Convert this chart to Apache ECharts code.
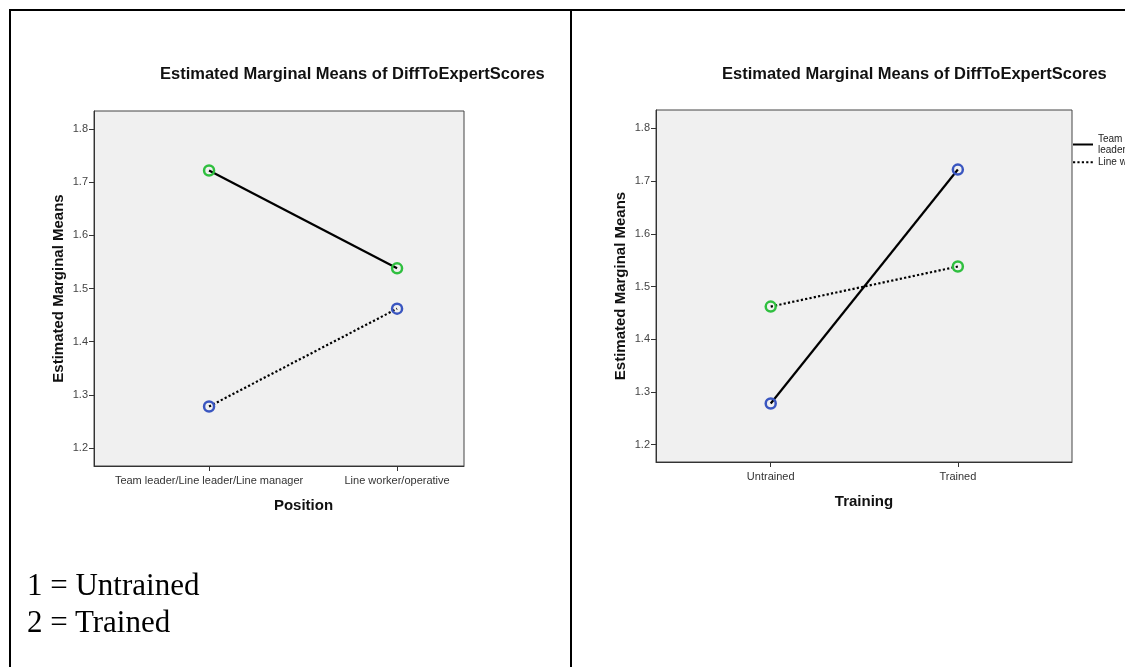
<!DOCTYPE html>
<html>
<head>
<meta charset="utf-8">
<title>Estimated Marginal Means of DiffToExpertScores</title>
<script src="https://cdn.jsdelivr.net/npm/echarts@6/dist/echarts.min.js"></script>
<style>
  html, body { margin: 0; padding: 0; background: #fff; overflow: hidden; }
  #wrap { position: relative; width: 1125px; height: 667px; overflow: hidden; }
  #chart { position: absolute; left: 0; top: 0; width: 1125px; height: 667px; }
  .rule { position: absolute; background: #000; }
  .note { position: absolute; left: 27px; font-family: "Liberation Serif", "Times New Roman", serif;
          font-size: 31px; line-height: 37px; color: #000; white-space: nowrap; }
</style>
</head>
<body>
<div id="wrap">
  <div id="chart"></div>
  <!-- table rules around the two panels -->
  <div class="rule" style="left:9px; top:9px; width:1200px; height:2px;"></div>
  <div class="rule" style="left:9px; top:9px; width:2px; height:700px;"></div>
  <div class="rule" style="left:570px; top:9px; width:2px; height:700px;"></div>
  <div class="note" style="top:566px;">1 = Untrained<br>2 = Trained</div>
</div>
<script>
// Factor levels
const positions = ['Team leader/Line leader/Line manager', 'Line worker/operative'];
const trainingLevels = ['Untrained', 'Trained'];

// Estimated marginal means by position, ordered [Untrained, Trained]
const teamLeaderMeans = [1.278, 1.722];
const lineWorkerMeans = [1.462, 1.538];

// Value axis ticks
const yTicks = [1.2, 1.3, 1.4, 1.5, 1.6, 1.7, 1.8];
const levelCodes = [1, 2];

const chart = echarts.init(document.getElementById('chart'), null, { renderer: 'canvas' });

const GREEN = '#2fbf3f';
const BLUE = '#3a56c0';
const BG = '#f0f0f0';
const FONT = '"Liberation Sans", Arial, sans-serif';

function yAxisFor(gridIndex, min, max) {
  return {
    type: 'value', gridIndex, min, max,
    name: 'Estimated Marginal Means', nameLocation: 'middle', nameGap: 28,
    nameTextStyle: { fontFamily: FONT, fontSize: 15, fontWeight: 'bold', color: '#111' },
    axisLine: { show: true, lineStyle: { color: '#333', width: 1 } },
    axisTick: { show: true, length: 5, customValues: yTicks, lineStyle: { color: '#333' } },
    axisLabel: { customValues: yTicks, margin: 6, fontFamily: FONT, fontSize: 11, color: '#444',
                 formatter: v => v.toFixed(1) },
    splitLine: { show: false }
  };
}

function xAxisFor(gridIndex, min, max, labels, name, namePad) {
  return {
    type: 'value', gridIndex, min, max,
    name, nameLocation: 'middle', nameGap: 32,
    nameTextStyle: { fontFamily: FONT, fontSize: 15, fontWeight: 'bold', color: '#111',
                     padding: [0, 0, 0, namePad] },
    axisLine: { show: true, onZero: false, lineStyle: { color: '#333', width: 1 } },
    axisTick: { show: true, length: 5, customValues: levelCodes, lineStyle: { color: '#333' } },
    axisLabel: { customValues: levelCodes, margin: 9, fontFamily: FONT, fontSize: 11, color: '#333',
                 formatter: v => labels[Math.round(v) - 1] || '' },
    splitLine: { show: false }
  };
}

function meanSeries(name, xi, yi, values, dotted, ringColor) {
  return {
    type: 'line', name, xAxisIndex: xi, yAxisIndex: yi,
    data: values.map((v, i) => [levelCodes[i], v]),
    symbol: 'circle', symbolSize: 10,
    itemStyle: { color: 'rgba(0,0,0,0)', borderColor: ringColor, borderWidth: 2.5 },
    lineStyle: { color: '#000', width: 2.2, type: dotted ? [2.2, 2.2] : 'solid' },
    emphasis: { disabled: true },
    animation: false, z: 3
  };
}

const titleStyle = { fontFamily: FONT, fontSize: 16.5, fontWeight: 'bold', color: '#111' };

const option = {
  backgroundColor: '#fff',
  animation: false,
  title: [
    { text: 'Estimated Marginal Means of DiffToExpertScores', left: 155, top: 61, textStyle: titleStyle },
    { text: 'Estimated Marginal Means of DiffToExpertScores', left: 717, top: 61, textStyle: titleStyle }
  ],
  grid: [
    { left: 94, top: 111, width: 370, height: 355, show: true, backgroundColor: BG,
      borderColor: '#444', borderWidth: 1 },
    { left: 656, top: 110, width: 416, height: 352, show: true, backgroundColor: BG,
      borderColor: '#444', borderWidth: 1 }
  ],
  xAxis: [
    xAxisFor(0, 0.388, 2.356, positions, 'Position', 49),
    xAxisFor(1, 0.387, 2.61, trainingLevels, 'Training', 0)
  ],
  yAxis: [
    yAxisFor(0, 1.166, 1.834),
    yAxisFor(1, 1.167, 1.835)
  ],
  legend: {
    data: positions,
    orient: 'vertical', left: 1072, top: 134, padding: 0,
    itemWidth: 20, itemHeight: 8, itemGap: 2,
    itemStyle: { color: 'rgba(0,0,0,0)', borderColor: 'rgba(0,0,0,0)', borderWidth: 0 },
    textStyle: { fontFamily: FONT, fontSize: 10, color: '#222', lineHeight: 10.5 },
    formatter: n => n === positions[0] ? 'Team leader/Line\nleader/Line manager' : n,
    selectedMode: false
  },
  series: [
    // Position on the x axis, one line per training level
    meanSeries(trainingLevels[1], 0, 0, [teamLeaderMeans[1], lineWorkerMeans[1]], false, GREEN),
    meanSeries(trainingLevels[0], 0, 0, [teamLeaderMeans[0], lineWorkerMeans[0]], true, BLUE),
    // Training on the x axis, one line per position
    meanSeries(positions[0], 1, 1, teamLeaderMeans, false, BLUE),
    meanSeries(positions[1], 1, 1, lineWorkerMeans, true, GREEN)
  ]
};

chart.setOption(option);
</script>
</body>
</html>
